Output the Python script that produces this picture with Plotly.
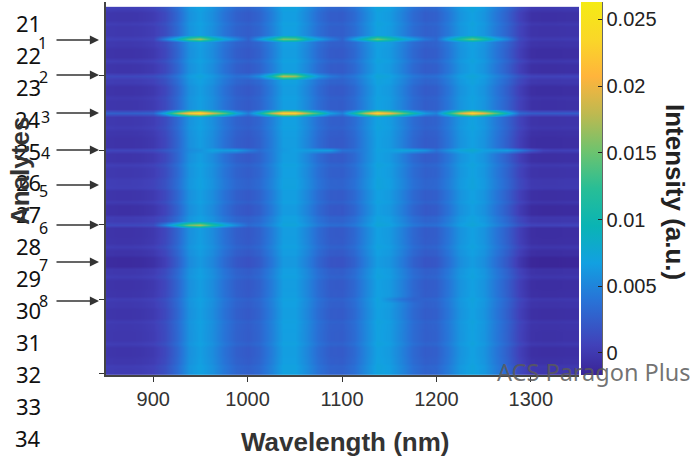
import plotly.graph_objects as go

wavelengths = [850 + 12.5 * i for i in range(41)]
base_spectrum = [.0002, .0001, .0001, .0002, .0005, .0015, .0034, .0060, .0068, .0058, .0042, .0030, .0026, .0032,
                 .0048, .0068, .0068, .0054, .0038, .0028, .0027, .0036, .0054, .0070, .0066, .0052, .0036, .0028,
                 .0030, .0044, .0062, .0070, .0062, .0046, .0030, .0010, -.0002, -.0003, -.0003, -.0002, -.0002]
row_numbers = list(range(1, 51))
row_offset = [.0003, -.0004, .0002, -.0002, .0004, -.0002, -.0006, .0002, -.0005, .0010,
              .0001, -.0006, -.0001, -.0004, .0026, -.0002, .0001, -.0004, -.0006, .0008,
              -.0005, .0003, -.0002, .0002, .0003, -.0005, .0000, -.0008, .0001, .0010,
              -.0006, -.0005, .0001, -.0006, -.0012, -.0003, .0001, -.0006, -.0005, .0002,
              -.0002, -.0005, .0001, -.0002, -.0003, .0002, -.0005, -.0003, .0002, .0001]
line_row5 = [0, 0, 0, 0, 0, .0030, .0050, .0080, .0100, .0050, .0032, .0020, 0, .0030, .0050, .0088, .0080, .0040,
             .0030, .0016, 0, .0030, .0050, .0082, .0052, .0034, .0028, .0012, 0, .0030, .0050, .0080, .0050, .0030,
             .0018, 0, 0, 0, 0, 0, 0]
line_row10 = [0, 0, 0, 0, 0, 0, 0, 0, 0, 0, 0, 0, .0006, .0018, .0045, .0110, .0095, .0040, .0020, .0008,
              0, 0, 0, 0, 0, 0, 0, 0, 0, 0, 0, 0, 0, 0, 0, 0, 0, 0, 0, 0, 0]
line_row15 = [0, 0, 0, 0, 0, .0040, .0110, .0155, .0170, .0120, .0085, .0030, 0, .0040, .0110, .0160, .0155, .0105,
              .0070, .0020, 0, .0050, .0115, .0160, .0130, .0090, .0050, .0015, 0, .0050, .0115, .0160, .0125, .0085,
              .0040, 0, 0, 0, 0, 0, 0]
line_row20 = [0, 0, 0, 0, 0, 0, -.0006, -.0010, -.0012, .0008, .0018, .0030, .0016, -.0002, -.0006, -.0008, -.0004,
              .0006, .0024, .0032, .0006, -.0002, -.0008, -.0004, -.0002, .0016, .0028, .0026, .0004, .0010, .0008,
              .0006, .0002, .0014, .0030, .0030, .0018, .0002, 0, 0, 0]
line_row30 = [0, 0, 0, 0, 0, .0028, .0055, .0090, .0100, .0055, .0034, .0018, 0, 0, 0, 0, 0, 0, 0, 0,
              0, 0, 0, 0, 0, 0, 0, 0, 0, 0, 0, 0, 0, 0, 0, 0, 0, 0, 0, 0, 0]
line_row40 = [0] * 24 + [-.0012, -.0014, -.0008] + [0] * 14
line_rows = {5: line_row5, 10: line_row10, 15: line_row15, 20: line_row20, 30: line_row30, 40: line_row40}
x_ticks = [900, 1000, 1100, 1200, 1300]
y_ticks = [10, 20, 30, 40, 50]
color_ticks = [0, 0.005, 0.01, 0.015, 0.02, 0.025]
color_labels = ["0", "0.005", "0.01", "0.015", "0.02", "0.025"]
page_numbers = list(range(20, 35))
analyte_labels = ["1", "2", "3", "4", "5", "6", "7", "8"]


def row_values(off, extra):
    return [b + off * (1 - b / 0.012) + e for b, e in zip(base_spectrum, extra)]


# Half-row samples keep each narrow emission line as thin as in the reference.
no_line = [0] * len(wavelengths)
y_samples, z = [], []
for i, (r, off) in enumerate(zip(row_numbers, row_offset)):
    y_samples.append(r)
    z.append(row_values(off, line_rows.get(r, no_line)))
    if i + 1 < len(row_numbers):
        y_samples.append(r + 0.5)
        z.append(row_values(min(off, row_offset[i + 1]), no_line))

L, R, T, B = 106, 579, 2, 375
W, H = R - L, B - T
px = lambda x: (x - L) / W
py = lambda y: (B - y) / H

parula = [[0, "rgb(58,36,150)"], [.08, "rgb(65,65,185)"], [.2, "rgb(40,115,215)"], [.3, "rgb(18,160,225)"],
          [.4, "rgb(10,180,180)"], [.5, "rgb(40,190,150)"], [.6, "rgb(110,195,110)"], [.7, "rgb(190,185,80)"],
          [.8, "rgb(255,180,60)"], [.9, "rgb(250,215,40)"], [1, "rgb(245,235,20)"]]

fig = go.Figure(go.Heatmap(
    x=wavelengths, y=y_samples, z=z, zsmooth="best", colorscale=parula, zmin=-0.00165, zmax=0.0263,
    colorbar=dict(x=px(581), xanchor="left", thickness=21, thicknessmode="pixels", len=1, lenmode="fraction",
                  y=0, yanchor="bottom", ypad=0, xpad=0, outlinewidth=0, ticks="inside", ticklen=4, tickwidth=1,
                  tickcolor="#222", tickvals=color_ticks, ticktext=color_labels,
                  tickfont=dict(family="Liberation Sans", size=20, color="#222")),
))

annotations = []


def label(text, x, y, size, family="Noto Sans", color="#111", bold=False, angle=0):
    annotations.append(dict(text=f"<b>{text}</b>" if bold else text, x=px(x), y=py(y), xref="paper", yref="paper",
                            showarrow=False, textangle=angle, xanchor="center", yanchor="middle",
                            font=dict(family=family, size=size, color=color)))


for i, n in enumerate(page_numbers):
    label(str(n), 28, -9 + 31.9 * i, 22)
for lab, lx, ly in zip(analyte_labels, [43, 44, 45, 45, 44, 44, 44, 44], [43, 77, 117, 153, 191, 228, 265, 301]):
    label(lab, lx, ly, 16)
for ay in [40, 75, 113, 150, 185, 225, 262, 301]:
    annotations.append(dict(x=px(99), y=py(ay), ax=-44, ay=0, xref="paper", yref="paper", axref="pixel",
                            ayref="pixel", text="", showarrow=True, arrowhead=2, arrowsize=1.4, arrowwidth=1.3,
                            arrowcolor="#333"))
label("Analytes", 20, 171, 26, "Liberation Sans", "#333", True, -90)
label("Wavelength (nm)", 345, 442, 26, "Liberation Sans", "#333", True)
label("Intensity (a.u.)", 675, 192, 26, "Liberation Sans", "#222", True, 90)
label("ACS Paragon Plus", 594, 372, 23.5, "Noto Sans", "rgba(90,90,90,0.85)")

fig.update_layout(
    width=690, height=456, autosize=False, margin=dict(l=L, r=690 - R, t=T, b=456 - B),
    paper_bgcolor="white", plot_bgcolor="white", annotations=annotations,
    shapes=[dict(type="line", xref="paper", yref="paper", x0=px(602), x1=px(602), y0=0, y1=1,
                 line=dict(color="#333", width=1.5))],
    xaxis=dict(range=[850, 1351], tickvals=x_ticks, ticks="outside", ticklen=5, tickcolor="#333", showline=True,
               linecolor="#444", linewidth=1.5, showgrid=False, zeroline=False,
               tickfont=dict(family="Liberation Sans", size=20, color="#333")),
    yaxis=dict(range=[50.2, 0.1], tickvals=y_ticks, ticks="outside", ticklen=5, tickcolor="#333", showline=True,
               linecolor="#444", linewidth=1.5, showgrid=False, zeroline=False, showticklabels=False),
)
fig.write_html("out.html", config={"displayModeBar": False},
               post_script="document.body.style.margin='0';document.documentElement.style.overflow='hidden';")
